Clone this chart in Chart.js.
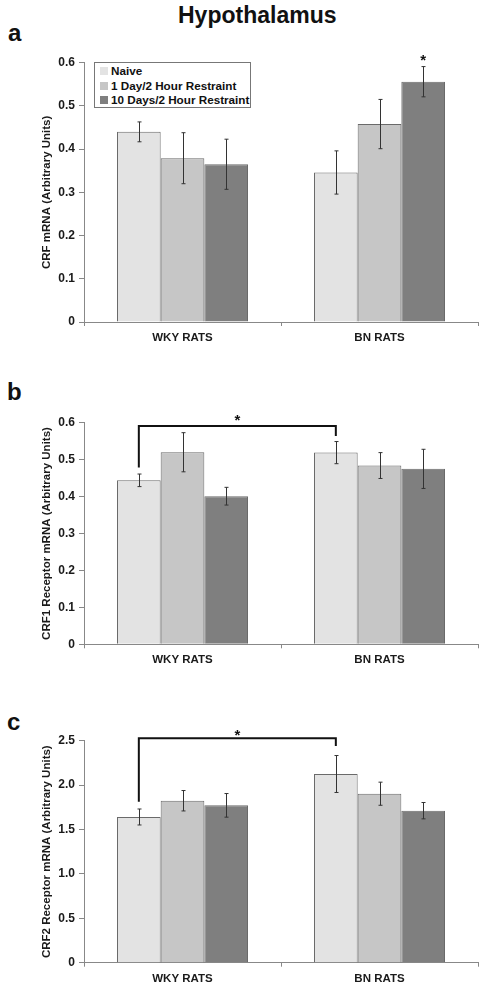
<!DOCTYPE html>
<html><head><meta charset="utf-8">
<script src="https://cdn.jsdelivr.net/npm/chart.js@4"></script>
<style>
html,body{margin:0;padding:0;background:#fff;}
body{width:485px;height:993px;position:relative;overflow:hidden;font-family:"Liberation Sans",Arial,sans-serif;}
.lbl{position:absolute;font-weight:bold;color:#111;line-height:1;white-space:nowrap;}
.panel{position:absolute;left:0;width:485px;}
#legend{position:absolute;left:94px;top:62px;width:157px;height:46px;border:1px solid #777;background:#fff;font-weight:bold;font-size:11.7px;color:#111;box-sizing:border-box;padding-top:1px;}
#legend .row{height:14.6px;line-height:14.6px;position:relative;padding-left:16px;white-space:nowrap;}
#legend .sw{position:absolute;left:5px;top:3px;width:8px;height:8px;}
</style></head><body>
<div class="lbl" style="left:178px;top:3.5px;font-size:23px;">Hypothalamus</div>
<div class="lbl" style="left:8px;top:21px;font-size:24px;">a</div>
<div class="lbl" style="left:7px;top:380px;font-size:24px;">b</div>
<div class="lbl" style="left:7px;top:710px;font-size:24px;">c</div>

<div class="panel" style="top:45px;height:305px;"><canvas id="ca" width="485" height="305"></canvas></div>
<div class="panel" style="top:405px;height:270px;"><canvas id="cb" width="485" height="270"></canvas></div>
<div class="panel" style="top:722px;height:271px;"><canvas id="cc" width="485" height="271"></canvas></div>
<div id="legend"></div>

<script>
// ---------- shared data ----------
const categories = ['WKY RATS', 'BN RATS'];
const seriesNames = ['Naive', '1 Day/2 Hour Restraint', '10 Days/2 Hour Restraint'];
const seriesColors = ['#e3e3e3', '#c6c6c6', '#7f7f7f'];

// ---------- panel a: CRF mRNA ----------
const crfNaive = [0.440, 0.346];
const crfNaiveErr = [0.023, 0.050];
const crfOneDay = [0.379, 0.458];
const crfOneDayErr = [0.059, 0.057];
const crfTenDays = [0.365, 0.556];
const crfTenDaysErr = [0.058, 0.035];
const crfTicks = [0, 0.1, 0.2, 0.3, 0.4, 0.5, 0.6];

// ---------- panel b: CRF1 receptor mRNA ----------
const crf1Naive = [0.444, 0.519];
const crf1NaiveErr = [0.017, 0.030];
const crf1OneDay = [0.520, 0.484];
const crf1OneDayErr = [0.053, 0.035];
const crf1TenDays = [0.401, 0.475];
const crf1TenDaysErr = [0.024, 0.053];
const crf1Ticks = [0, 0.1, 0.2, 0.3, 0.4, 0.5, 0.6];

// ---------- panel c: CRF2 receptor mRNA ----------
const crf2Naive = [1.641, 2.125];
const crf2NaiveErr = [0.090, 0.208];
const crf2OneDay = [1.824, 1.903];
const crf2OneDayErr = [0.115, 0.130];
const crf2TenDays = [1.772, 1.712];
const crf2TenDaysErr = [0.133, 0.092];
const crf2Ticks = [0, 0.5, 1, 1.5, 2, 2.5];

// significance marks: star over one bar (panel a); brackets (panels b, c)
const starA = { dataset: 2, index: 1, value: 0.614 };
const bracketB = { from: [0, 0], to: [0, 1], level: 0.591, leftEnd: 0.479, rightEnd: 0.564, star: 0.616 };
const bracketC = { from: [0, 0], to: [0, 1], level: 2.527, leftEnd: 1.813, rightEnd: 2.44, star: 2.609 };

// ---------- legend (HTML, built from series arrays) ----------
const lg = document.getElementById('legend');
seriesNames.forEach((n, i) => {
  const r = document.createElement('div'); r.className = 'row';
  const s = document.createElement('span'); s.className = 'sw'; s.style.background = seriesColors[i];
  r.appendChild(s); r.appendChild(document.createTextNode(n)); lg.appendChild(r);
});

const FONT = '"Liberation Sans", Arial, sans-serif';

const errorBarPlugin = {
  id: 'errbars',
  afterDatasetsDraw(chart) {
    const ctx = chart.ctx, ys = chart.scales.y;
    ctx.save();
    ctx.strokeStyle = '#333'; ctx.lineWidth = 1;
    chart.data.datasets.forEach((ds, di) => {
      const meta = chart.getDatasetMeta(di);
      meta.data.forEach((el, j) => {
        const v = ds.data[j], e = ds.errors[j];
        const x = Math.round(el.x) + 0.5;
        const t = ys.getPixelForValue(v + e), b = ys.getPixelForValue(v - e);
        ctx.beginPath();
        ctx.moveTo(x, t); ctx.lineTo(x, b);
        ctx.moveTo(x - 2, t); ctx.lineTo(x + 2, t);
        ctx.moveTo(x - 2, b); ctx.lineTo(x + 2, b);
        ctx.stroke();
      });
    });
    ctx.restore();
  }
};

function drawStar(ctx, x, yc) {
  ctx.save();
  ctx.fillStyle = '#111';
  ctx.font = 'bold 15px ' + FONT;
  ctx.textAlign = 'center';
  ctx.textBaseline = 'alphabetic';
  ctx.fillText('*', x, yc + 0.57 * 15);
  ctx.restore();
}

const sigPlugin = {
  id: 'sig',
  afterDraw(chart, args, opts) {
    const ctx = chart.ctx, ys = chart.scales.y;
    if (opts.star) {
      const s = opts.star;
      const el = chart.getDatasetMeta(s.dataset).data[s.index];
      drawStar(ctx, el.x, ys.getPixelForValue(s.value));
    }
    if (opts.bracket) {
      const b = opts.bracket;
      const x1 = chart.getDatasetMeta(b.from[0]).data[b.from[1]].x;
      const x2 = chart.getDatasetMeta(b.to[0]).data[b.to[1]].x;
      const yl = ys.getPixelForValue(b.level);
      ctx.save();
      ctx.strokeStyle = '#111'; ctx.lineWidth = 2; ctx.lineCap = 'butt';
      ctx.beginPath();
      ctx.moveTo(x1, ys.getPixelForValue(b.leftEnd));
      ctx.lineTo(x1, yl); ctx.lineTo(x2, yl);
      ctx.lineTo(x2, ys.getPixelForValue(b.rightEnd));
      ctx.stroke();
      ctx.restore();
      drawStar(ctx, (x1 + x2) / 2, ys.getPixelForValue(b.star));
    }
  }
};

function makeChart(id, vals, errs, ticks, yTitle, padTop, xHeight, sig) {
  return new Chart(document.getElementById(id), {
    type: 'bar',
    data: {
      labels: categories,
      datasets: seriesNames.map((n, i) => ({
        label: n, data: vals[i], errors: errs[i],
        backgroundColor: seriesColors[i], borderColor: '#6a6a6a', borderWidth: 1,
        categoryPercentage: 0.665, barPercentage: 1.0
      }))
    },
    options: {
      responsive: false, animation: false,
      layout: { padding: { left: 40, right: 7, top: padTop, bottom: 0 } },
      plugins: { legend: { display: false }, tooltip: { enabled: false }, sig: sig },
      scales: {
        x: {
          grid: { display: true, drawOnChartArea: false, offset: true, tickLength: 4, color: '#888' },
          border: { color: '#888', width: 1 },
          ticks: { font: { family: FONT, size: 11.5, weight: 'bold' }, color: '#1a1a1a', padding: 5, maxRotation: 0 },
          afterFit: s => { s.height = xHeight; }
        },
        y: {
          min: ticks[0], max: ticks[ticks.length - 1],
          afterBuildTicks: s => { s.ticks = ticks.map(v => ({ value: v })); },
          grid: { display: true, drawOnChartArea: false, tickLength: 5, color: '#888' },
          border: { color: '#888', width: 1 },
          ticks: { font: { family: FONT, size: 12, weight: 'bold' }, color: '#1a1a1a', padding: 4 },
          title: { display: true, text: yTitle, font: { family: FONT, size: 11.5, weight: 'bold' }, color: '#1a1a1a', padding: { top: 0, bottom: 0 } },
          afterFit: s => { s.width = 44; }
        }
      }
    },
    plugins: [errorBarPlugin, sigPlugin]
  });
}

makeChart('ca', [crfNaive, crfOneDay, crfTenDays], [crfNaiveErr, crfOneDayErr, crfTenDaysErr],
  crfTicks, 'CRF mRNA (Arbitrary Units)', 17.7, 28, { star: starA });
makeChart('cb', [crf1Naive, crf1OneDay, crf1TenDays], [crf1NaiveErr, crf1OneDayErr, crf1TenDaysErr],
  crf1Ticks, 'CRF1 Receptor mRNA (Arbitrary Units)', 17.7, 30.7, { bracket: bracketB });
makeChart('cc', [crf2Naive, crf2OneDay, crf2TenDays], [crf2NaiveErr, crf2OneDayErr, crf2TenDaysErr],
  crf2Ticks, 'CRF2 Receptor mRNA (Arbitrary Units)', 18.7, 30.3, { bracket: bracketC });
</script>
</body></html>
